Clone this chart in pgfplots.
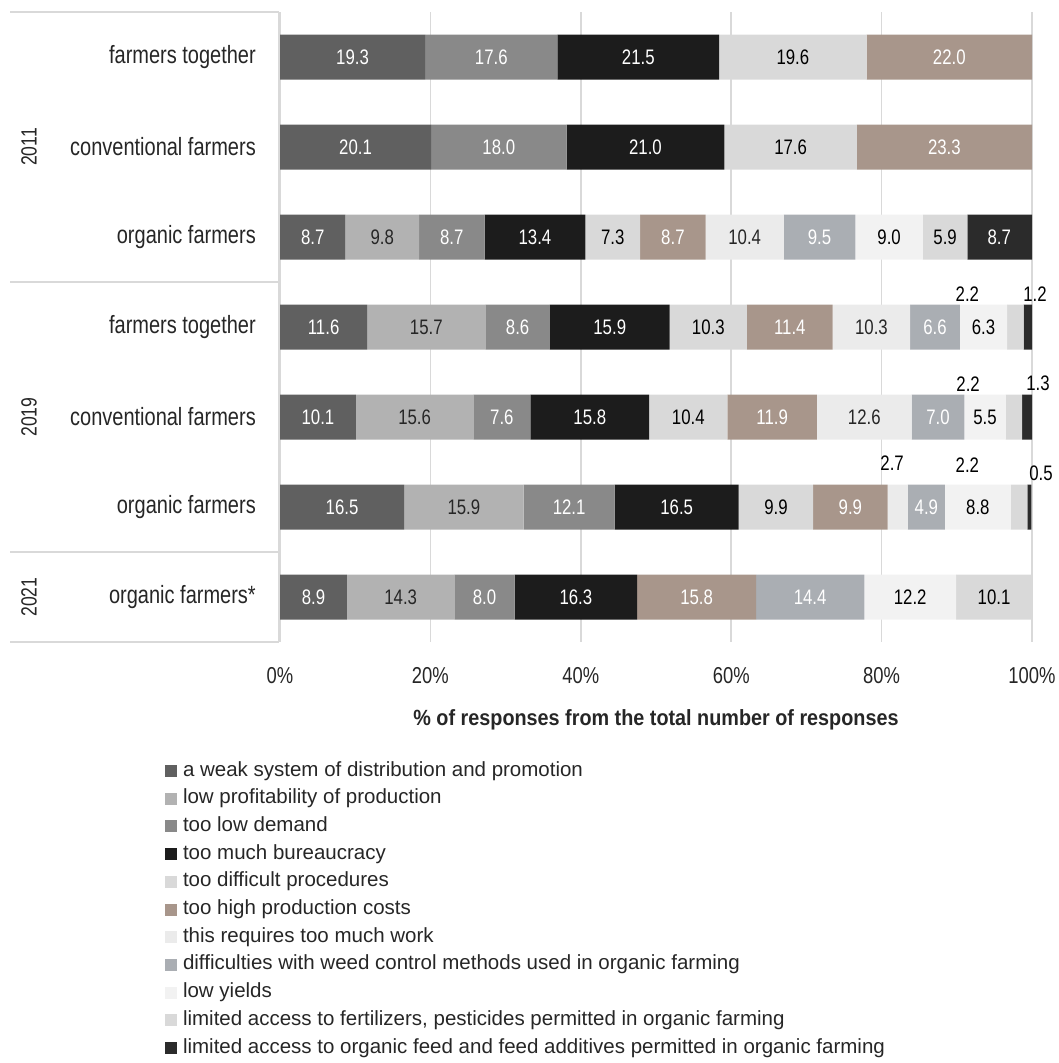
\documentclass[border=0pt]{standalone}
\usepackage{pgfplots}
\pgfplotsset{compat=1.18}
\usepackage{pgfplotstable}
\usepackage{fontspec}
\setmainfont{Liberation Sans}[FakeStretch=0.8]
\newfontfamily\legfont{Liberation Sans}
\newfontfamily\xlabfont{Liberation Sans}[FakeStretch=0.9]

\definecolor{cA}{HTML}{606060}
\definecolor{cB}{HTML}{B2B2B2}
\definecolor{cC}{HTML}{898989}
\definecolor{cD}{HTML}{1C1C1C}
\definecolor{cE}{HTML}{D9D9D9}
\definecolor{cF}{HTML}{A8968B}
\definecolor{cG}{HTML}{EBEBEB}
\definecolor{cH}{HTML}{AAAEB3}
\definecolor{cI}{HTML}{F2F2F2}
\definecolor{cJ}{HTML}{D9D9D9}
\definecolor{cK}{HTML}{2B2B2B}
\definecolor{gridc}{HTML}{D9D9D9}
\definecolor{txt}{HTML}{262626}

\pgfplotstableread{
r v l
0 19.3 19.3
1 20.1 20.1
2 8.7 8.7
3 11.6 11.6
4 10.1 10.1
5 16.5 16.5
6 8.9 8.9
}\sA
\pgfplotstableread{
r v l
0 0 {}
1 0 {}
2 9.8 9.8
3 15.7 15.7
4 15.6 15.6
5 15.9 15.9
6 14.3 14.3
}\sB
\pgfplotstableread{
r v l
0 17.6 17.6
1 18.0 18.0
2 8.7 8.7
3 8.6 8.6
4 7.6 7.6
5 12.1 12.1
6 8.0 8.0
}\sC
\pgfplotstableread{
r v l
0 21.5 21.5
1 21.0 21.0
2 13.4 13.4
3 15.9 15.9
4 15.8 15.8
5 16.5 16.5
6 16.3 16.3
}\sD
\pgfplotstableread{
r v l
0 19.6 19.6
1 17.6 17.6
2 7.3 7.3
3 10.3 10.3
4 10.4 10.4
5 9.9 9.9
6 0 {}
}\sE
\pgfplotstableread{
r v l
0 22.0 22.0
1 23.3 23.3
2 8.7 8.7
3 11.4 11.4
4 11.9 11.9
5 9.9 9.9
6 15.8 15.8
}\sF
\pgfplotstableread{
r v l
0 0 {}
1 0 {}
2 10.4 10.4
3 10.3 10.3
4 12.6 12.6
5 2.7 {}
6 0 {}
}\sG
\pgfplotstableread{
r v l
0 0 {}
1 0 {}
2 9.5 9.5
3 6.6 6.6
4 7.0 7.0
5 4.9 4.9
6 14.4 14.4
}\sH
\pgfplotstableread{
r v l
0 0 {}
1 0 {}
2 9.0 9.0
3 6.3 6.3
4 5.5 5.5
5 8.8 8.8
6 12.2 12.2
}\sI
\pgfplotstableread{
r v l
0 0 {}
1 0 {}
2 5.9 5.9
3 2.2 {}
4 2.2 {}
5 2.2 {}
6 10.1 10.1
}\sJ
\pgfplotstableread{
r v l
0 0 {}
1 0 {}
2 8.7 8.7
3 1.2 {}
4 1.3 {}
5 0.5 {}
6 0 {}
}\sK
% labels of the small segments, set above the bars
\pgfplotstableread{
x y l
91.4 2.63 2.2
100.4 2.63 1.2
91.5 3.63 2.2
100.8 3.63 1.3
81.4 4.51 2.7
91.4 4.53 2.2
101.2 4.62 0.5
}\sSmall
% label of the last segment of 2011 organic farmers (8.7, centred in 91.3..100)
\pgfplotstableread{
x y l
95.65 2 8.7
}\sLast

\pgfplotsset{
  base/.style={
    scale only axis, width=752pt, height=630pt,
    xmin=0, xmax=100, ymin=-0.5, ymax=6.5, y dir=reverse,
    at={(280pt,-642pt)}, anchor=south west,
  },
  lab/.style={every node near coord/.append style={text=#1}},
}

\begin{document}
\begin{tikzpicture}
\begin{axis}[base,
  xbar stacked, bar width=45pt,
  axis line style={draw=none},
  major tick length=0pt,
  xtick={0,20,40,60,80,100},
  xticklabels={0\%,20\%,40\%,60\%,80\%,100\%},
  xmajorgrids, grid style={gridc, line width=1.5pt},
  ytick={0,1,2,3,4,5,6},
  yticklabels={farmers together, conventional farmers, organic farmers, farmers together, conventional farmers, organic farmers, organic farmers*},
  yticklabel style={anchor=east, inner sep=0pt, xshift=-24pt, font=\fontsize{25}{29}\selectfont, text=txt},
  xticklabel style={anchor=center, inner sep=0pt, yshift=-34pt, font=\fontsize{23}{27}\selectfont, text=txt},
  xlabel={\% of responses from the total number of responses},
  xlabel style={at={(axis description cs:0.5,-0.1238)}, anchor=center, font=\xlabfont\bfseries\fontsize{22}{26}\selectfont, text=txt},
  point meta=explicit symbolic,
  nodes near coords,
  every node near coord/.append style={anchor=center, inner sep=0pt, font=\fontsize{21}{24}\selectfont},
  legend style={at={(axis description cs:-0.1529,-0.1905)}, anchor=north west, draw=none, fill=none, inner sep=0pt, outer sep=0pt,
    font=\legfont\fontsize{20.5}{22}\selectfont, text=txt, cells={anchor=west}, row sep=9.7pt, column sep=3pt,
    nodes={text height=14pt, text depth=4pt, inner ysep=0pt, inner xsep=3pt}},
  legend cell align=left,
  legend image code/.code={\fill[#1] (0pt,-6pt) rectangle (12pt,6pt);},
]
\addplot[fill=cA, draw=none, lab=white] table[x=v, y=r, meta=l] {\sA};
\addlegendentry{a weak system of distribution and promotion}
\addplot[fill=cB, draw=none, lab=txt] table[x=v, y=r, meta=l] {\sB};
\addlegendentry{low profitability of production}
\addplot[fill=cC, draw=none, lab=white] table[x=v, y=r, meta=l] {\sC};
\addlegendentry{too low demand}
\addplot[fill=cD, draw=none, lab=white] table[x=v, y=r, meta=l] {\sD};
\addlegendentry{too much bureaucracy}
\addplot[fill=cE, draw=none, lab=black] table[x=v, y=r, meta=l] {\sE};
\addlegendentry{too difficult procedures}
\addplot[fill=cF, draw=none, lab=white] table[x=v, y=r, meta=l] {\sF};
\addlegendentry{too high production costs}
\addplot[fill=cG, draw=none, lab=txt] table[x=v, y=r, meta=l] {\sG};
\addlegendentry{this requires too much work}
\addplot[fill=cH, draw=none, lab=white] table[x=v, y=r, meta=l] {\sH};
\addlegendentry{difficulties with weed control methods used in organic farming}
\addplot[fill=cI, draw=none, lab=black] table[x=v, y=r, meta=l] {\sI};
\addlegendentry{low yields}
\addplot[fill=cJ, draw=none, lab=black] table[x=v, y=r, meta=l] {\sJ};
\addlegendentry{limited access to fertilizers, pesticides permitted in organic farming}
\addplot[fill=cK, draw=none, lab=white] table[x=v, y=r, meta=l] {\sK};
\addlegendentry{limited access to organic feed and feed additives permitted in organic farming}
\end{axis}

\begin{axis}[base, hide axis, clip=false,
  point meta=explicit symbolic, nodes near coords,
  every node near coord/.append style={anchor=center, inner sep=0pt, font=\fontsize{21}{24}\selectfont, text=black}]
\addplot[only marks, mark=*, mark size=0pt, draw=none, fill=none] table[x=x, y=y, meta=l] {\sSmall};
\addplot[only marks, mark=*, mark size=0pt, draw=none, fill=none, lab=white] table[x=x, y=y, meta=l] {\sLast};
\end{axis}

\draw[gridc, line width=1.5pt] (10pt,-12pt) -- (279pt,-12pt);
\draw[gridc, line width=1.5pt] (10pt,-282pt) -- (279pt,-282pt);
\draw[gridc, line width=1.5pt] (10pt,-552pt) -- (279pt,-552pt);
\draw[gridc, line width=1.5pt] (10pt,-642pt) -- (279pt,-642pt);
\draw[gridc, line width=1.5pt] (279pt,-12pt) -- (279pt,-642pt);
\node[rotate=90, font=\fontsize{22}{26}\selectfont, text=txt] at (29pt,-147pt) {2011};
\node[rotate=90, font=\fontsize{22}{26}\selectfont, text=txt] at (29pt,-417pt) {2019};
\node[rotate=90, font=\fontsize{22}{26}\selectfont, text=txt] at (29pt,-597pt) {2021};

\pgfresetboundingbox
\path (0pt,0pt) rectangle (1058pt,-1063pt);
\end{tikzpicture}
\end{document}
